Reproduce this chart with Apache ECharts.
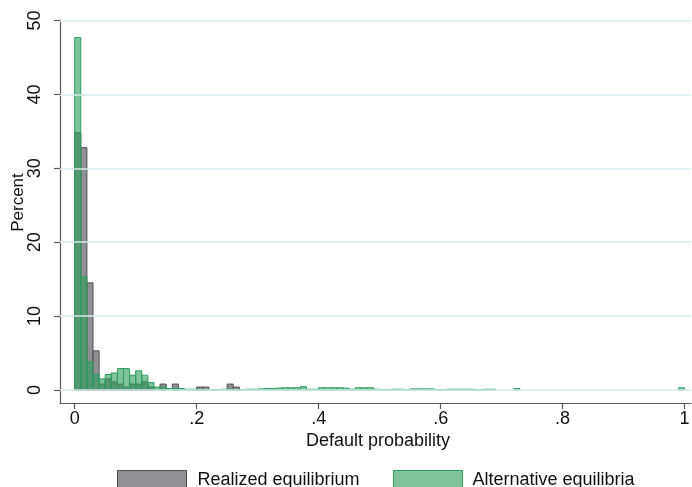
<!DOCTYPE html>
<html>
<head>
<meta charset="utf-8">
<script src="https://cdn.jsdelivr.net/npm/echarts@6/dist/echarts.min.js"></script>
<style>
  html, body { margin: 0; padding: 0; background: #fff; }
  #chart { width: 692px; height: 487px; }
</style>
</head>
<body>
<div id="chart"></div>
<script>
// Histogram of default probabilities, bins of width 0.01 from 0 to 1 (percent of observations)
const binWidth = 0.01;

const realized = [
  34.8, 32.8, 14.5, 5.3, 0.8, 1.5, 1.1, 0.8, 0.4, 0.8,
  0.8, 1.1, 0.4, 0, 0.8, 0, 0.8, 0, 0, 0,
  0.4, 0.4, 0, 0, 0, 0.8, 0.4, 0, 0, 0,
  0, 0, 0, 0, 0, 0, 0, 0, 0, 0,
  0, 0, 0, 0, 0, 0, 0, 0, 0, 0,
  0, 0, 0, 0, 0, 0, 0, 0, 0, 0,
  0, 0, 0, 0, 0, 0, 0, 0, 0, 0,
  0, 0, 0, 0, 0, 0, 0, 0, 0, 0,
  0, 0, 0, 0, 0, 0, 0, 0, 0, 0,
  0, 0, 0, 0, 0, 0, 0, 0, 0, 0
];

const alternative = [
  47.7, 15.3, 3.8, 2.1, 1.5, 2.1, 2.3, 2.9, 2.9, 2.0,
  2.6, 2.0, 1.0, 0.4, 0.4, 0.2, 0.2, 0.2, 0.1, 0.1,
  0.1, 0.05, 0.05, 0.05, 0.1, 0.1, 0.05, 0.05, 0.1, 0.1,
  0.15, 0.2, 0.2, 0.25, 0.3, 0.3, 0.3, 0.45, 0.1, 0.1,
  0.3, 0.3, 0.3, 0.3, 0.25, 0.1, 0.3, 0.3, 0.3, 0.1,
  0.05, 0.05, 0.1, 0.1, 0.05, 0.15, 0.15, 0.15, 0.15, 0.05,
  0.05, 0.1, 0.1, 0.1, 0.1, 0.1, 0.05, 0.1, 0.1, 0,
  0, 0, 0.2, 0, 0, 0, 0, 0, 0, 0,
  0, 0, 0, 0, 0, 0, 0, 0, 0, 0,
  0, 0, 0, 0, 0, 0, 0, 0, 0, 0.3
];

const xTicks = [0, 0.2, 0.4, 0.6, 0.8, 1];
const xTickLabels = ['0', '.2', '.4', '.6', '.8', '1'];
const yTicks = [0, 10, 20, 30, 40, 50];

const seriesNames = ['Realized equilibrium', 'Alternative equilibria'];

const FONT = '"Liberation Sans", Arial, Helvetica, sans-serif';
const TEXT = '#111';
const AXIS = '#5a5a5a';
const GRID = '#d6eaea';

const GRAY_FILL = 'rgba(128,128,134,0.88)';
const GRAY_EDGE = '#4f4f52';
const GREEN_FILL = 'rgba(46,158,92,0.62)';
const GREEN_EDGE = '#2f9e61';

// [binStart, binEnd, percent]
function toBins(values) {
  return values.map((v, i) => [i * binWidth, (i + 1) * binWidth, v]);
}

function histRenderer(fill, edge) {
  return function (params, api) {
    const v = api.value(2);
    if (!v) return null;
    const topLeft = api.coord([api.value(0), v]);
    const bottomRight = api.coord([api.value(1), 0]);
    return {
      type: 'rect',
      shape: {
        x: topLeft[0],
        y: topLeft[1],
        width: bottomRight[0] - topLeft[0],
        height: bottomRight[1] - topLeft[1]
      },
      style: { fill: fill, stroke: edge, lineWidth: 1 }
    };
  };
}

const chart = echarts.init(document.getElementById('chart'), null, { renderer: 'canvas' });

chart.setOption({
  animation: false,
  backgroundColor: '#ffffff',
  textStyle: { fontFamily: FONT, color: TEXT },
  grid: {
    left: 60, top: 20, right: 1, bottom: 84,
    containLabel: false,
    outerBoundsMode: 'none'
  },
  xAxis: {
    type: 'value',
    min: -0.0241,
    max: 1.0105,
    name: 'Default probability',
    nameLocation: 'middle',
    nameGap: 29,
    nameMoveOverlap: false,
    nameTextStyle: { fontSize: 18, color: TEXT, fontFamily: FONT, padding: [0, 0, 0, 5] },
    axisLine: { show: true, onZero: false, lineStyle: { color: AXIS, width: 1.2 } },
    axisTick: { show: true, length: 6, customValues: xTicks, lineStyle: { color: AXIS, width: 1.2 } },
    axisLabel: {
      customValues: xTicks,
      margin: 7,
      fontSize: 18,
      color: TEXT,
      fontFamily: FONT,
      formatter: function (val) {
        const idx = xTicks.findIndex(t => Math.abs(t - val) < 1e-9);
        return idx >= 0 ? xTickLabels[idx] : '';
      }
    },
    splitLine: { show: false }
  },
  yAxis: {
    type: 'value',
    min: -1.76,
    max: 50.07,
    name: 'Percent',
    nameLocation: 'middle',
    nameRotate: 90,
    nameGap: 33,
    nameMoveOverlap: false,
    nameTextStyle: { fontSize: 17, color: TEXT, fontFamily: FONT, padding: [0, 0, 0, 18] },
    axisLine: { show: true, onZero: false, lineStyle: { color: AXIS, width: 1.2 } },
    axisTick: { show: true, length: 6, customValues: yTicks, lineStyle: { color: AXIS, width: 1.2 } },
    axisLabel: {
      customValues: yTicks,
      rotate: 90,
      margin: 16,
      fontSize: 18,
      color: TEXT,
      fontFamily: FONT
    },
    splitLine: { show: false }
  },
  legend: [
    {
      left: 117, top: 470, padding: 0,
      itemWidth: 69, itemHeight: 20,
      icon: 'rect',
      textStyle: { fontSize: 18, color: TEXT, fontFamily: FONT, padding: [0, 0, 0, 6] },
      data: [{ name: seriesNames[0], itemStyle: { color: GRAY_FILL, borderColor: GRAY_EDGE, borderWidth: 1 } }],
      selectedMode: false
    },
    {
      left: 393, top: 470, padding: 0,
      itemWidth: 69, itemHeight: 20,
      icon: 'rect',
      textStyle: { fontSize: 18, color: TEXT, fontFamily: FONT, padding: [0, 0, 0, 5] },
      data: [{ name: seriesNames[1], itemStyle: { color: GREEN_FILL, borderColor: GREEN_EDGE, borderWidth: 1 } }],
      selectedMode: false
    }
  ],
  series: [
    {
      // horizontal reference lines at the labelled percent values
      type: 'line',
      name: 'gridlines',
      data: [],
      silent: true,
      z: 1,
      markLine: {
        silent: true,
        symbol: ['none', 'none'],
        label: { show: false },
        lineStyle: { color: GRID, width: 1.6, type: 'solid' },
        data: yTicks.map(v => ({ yAxis: v }))
      }
    },
    {
      type: 'custom',
      name: seriesNames[0],
      z: 2,
      itemStyle: { color: GRAY_FILL, borderColor: GRAY_EDGE },
      renderItem: histRenderer(GRAY_FILL, GRAY_EDGE),
      encode: { x: [0, 1], y: 2 },
      data: toBins(realized)
    },
    {
      type: 'custom',
      name: seriesNames[1],
      z: 3,
      itemStyle: { color: GREEN_FILL, borderColor: GREEN_EDGE },
      renderItem: histRenderer(GREEN_FILL, GREEN_EDGE),
      encode: { x: [0, 1], y: 2 },
      data: toBins(alternative)
    }
  ]
});
</script>
</body>
</html>
